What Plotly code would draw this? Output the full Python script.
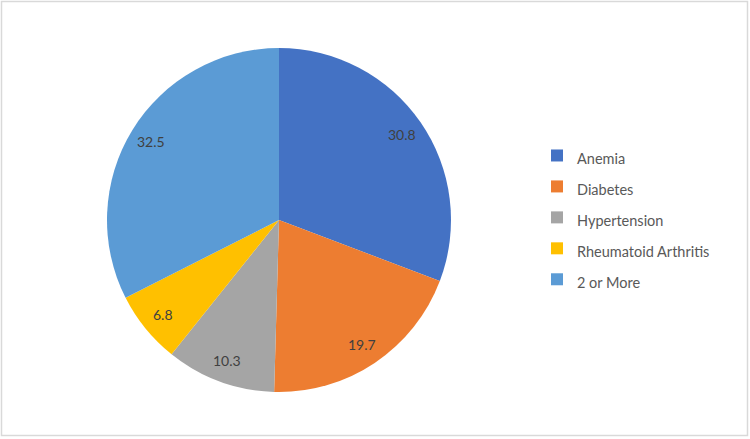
import math
import plotly.graph_objects as go

categories = ["Anemia", "Diabetes", "Hypertension", "Rheumatoid Arthritis", "2 or More"]
values = [30.8, 19.7, 10.3, 6.8, 32.5]
colors = ["#4472C4", "#ED7D31", "#A5A5A5", "#FFC000", "#5B9BD5"]

W, H = 750, 439
CX, CY, R = 279, 220, 172
LABEL_R = 0.87

legend_labels = ['<span style="font-size:14.5px">%s</span>' % c for c in categories]

fig = go.Figure()
fig.add_trace(go.Pie(
    labels=legend_labels,
    values=values,
    sort=False,
    direction="clockwise",
    rotation=0,
    marker=dict(colors=colors, line=dict(width=0)),
    textinfo="none",
    hoverinfo="label+value",
    domain=dict(x=[(CX - R) / W, (CX + R) / W], y=[1 - (CY + R) / H, 1 - (CY - R) / H]),
))

# data labels at "inside end" positions, derived from slice mid-angles
total = sum(values)
annotations = []
cum = 0.0
for v in values:
    mid = (cum + v / 2) / total * 2 * math.pi
    cum += v
    px = CX + LABEL_R * R * math.sin(mid)
    py = CY - LABEL_R * R * math.cos(mid)
    annotations.append(dict(
        x=px / W, y=1 - py / H, xref="paper", yref="paper",
        text=f"{v:g}", showarrow=False,
        font=dict(family="Lato", size=14, color="#404040"),
        xanchor="center", yanchor="middle",
    ))

fig.update_layout(
    width=W, height=H,
    margin=dict(l=0, r=0, t=0, b=0),
    paper_bgcolor="white",
    plot_bgcolor="white",
    showlegend=True,
    legend=dict(
        x=537 / W, xanchor="left",
        y=1 - 135 / H, yanchor="top",
        font=dict(family="Lato", size=21.5, color="#595959"),
        bgcolor="rgba(0,0,0,0)",
    ),
    annotations=annotations,
    shapes=[dict(
        type="rect", xref="paper", yref="paper",
        x0=1.5 / W, x1=747.5 / W, y0=1 - 435.5 / H, y1=1 - 1.5 / H,
        line=dict(color="#D9D9D9", width=1.5),
    )],
)

fig.write_html("out.html")
